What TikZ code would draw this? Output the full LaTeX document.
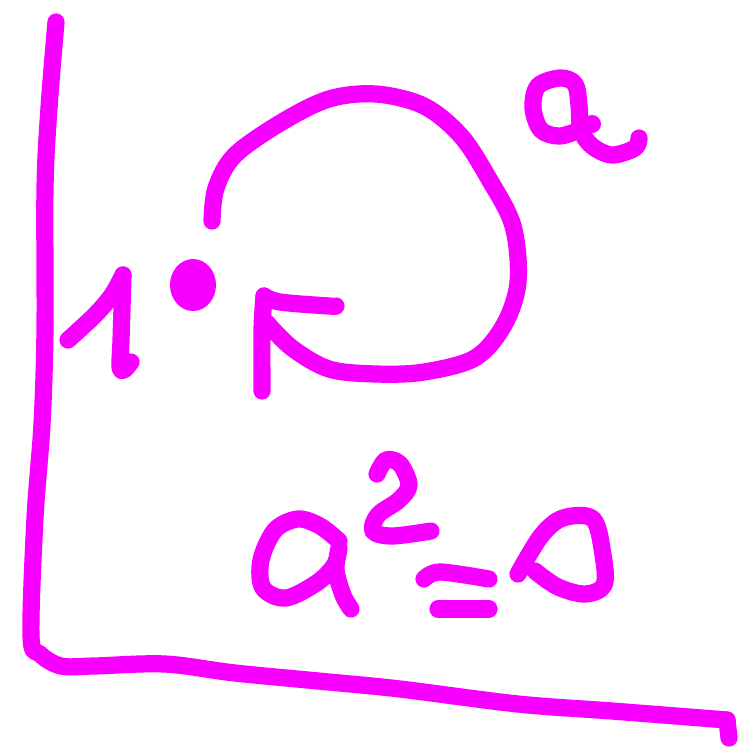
\documentclass[tikz,border=0pt]{standalone}
\definecolor{pen}{RGB}{248,0,255}
\tikzset{ink/.style={draw=pen,line width=9.8pt,line cap=round,line join=round},
  sm/.style={smooth,tension=0.55}}
\begin{document}
\begin{tikzpicture}[x=0.02cm,y=-0.02cm]
\useasboundingbox (0,0) rectangle (738,751);
% axes
\draw[ink] plot[sm] coordinates {(56,22) (49,108) (45,188) (45,329) (42,424) (35,518) (31,636) (40,654) (61,666) (94,666) (165,664) (235,673) (329,682) (400,689) (518,704) (612,711) (727,720)};
\draw[ink] (727,720) -- (729,738);
% loop
\draw[ink] plot[sm] coordinates {(212,221) (216,188) (235,155) (282,122) (329,99) (376,94) (424,106) (461,136) (489,179) (513,226) (518,282) (504,325) (475,358) (424,372) (376,374) (329,369) (292,348) (266,322)};
% arrow head
\draw[ink] plot[sm] coordinates {(262,391) (262,330) (264,296)};
\draw[ink] plot[sm] coordinates {(264,296) (280,302) (329,306) (336,306)};
% dot
\fill[pen] (193,285) ellipse [x radius=23, y radius=26];
% one
\draw[ink] plot[sm] coordinates {(68,340) (95,315) (112,295) (123,275)};
\draw[ink] plot[sm] coordinates {(123,275) (121,340) (120,367) (124,370) (131,362)};
% top right a
\draw[ink] plot[sm] coordinates {(582,129) (560,136) (541,130) (533,108) (538,86) (560,78) (575,84) (579,105) (581,130) (592,146) (612,155) (635,148) (639,138)};
\fill[pen] (592,124) circle (9);
% a^2 = a
\draw[ink] plot[sm] coordinates {(339,541) (320,526) (298,519) (275,530) (261,560) (263,588) (286,598) (318,582) (335,564) (339,548) (336,570) (343,595) (351,609)};
\draw[ink] plot[sm] coordinates {(377,474) (386,460) (400,464) (409,485) (399,500) (378,515) (373,531) (392,536) (431,531)};
\draw[ink] plot[sm] coordinates {(424,579) (440,572) (489,579)};
\draw[ink] (438,609) -- (489,609);
\draw[ink] plot[sm] coordinates {(518,574) (541,536) (563,518) (593,519) (603,555) (604,585) (585,594) (558,587) (535,571)};
\end{tikzpicture}
\end{document}
